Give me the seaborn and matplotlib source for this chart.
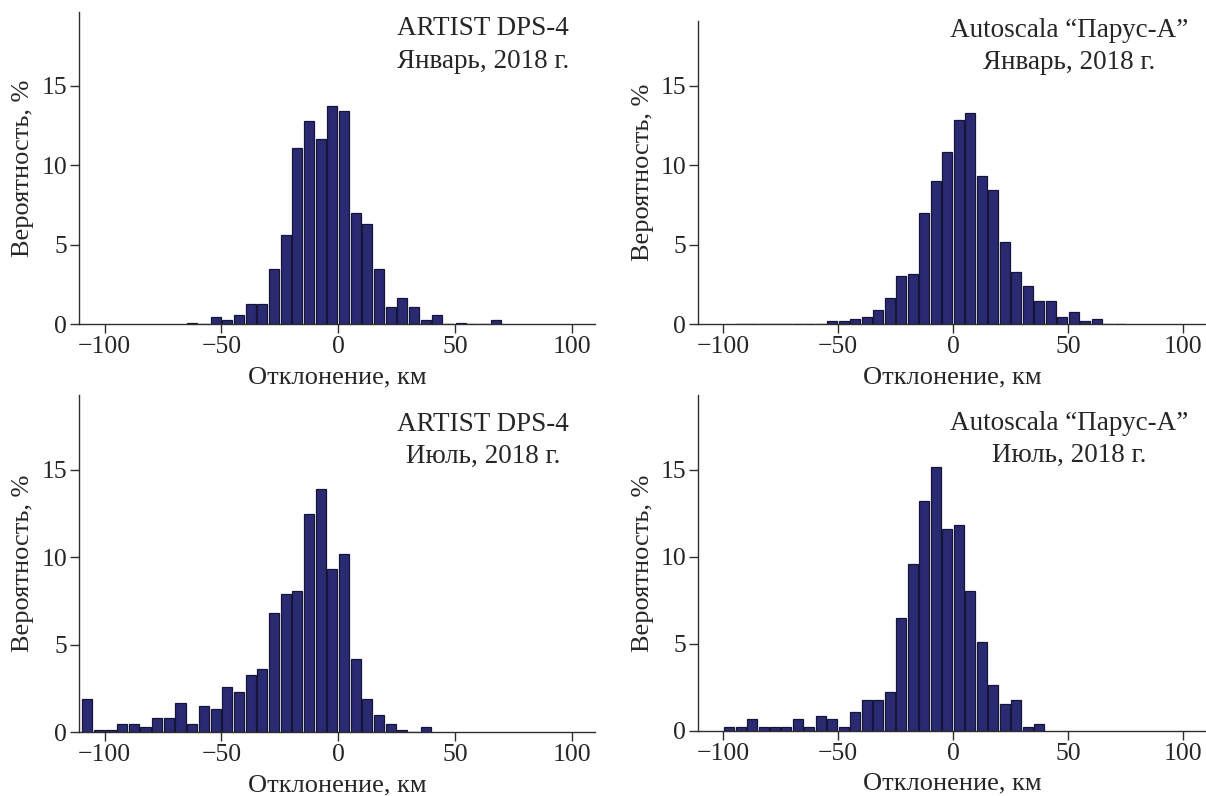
import numpy as np
import pandas as pd
import matplotlib
matplotlib.use("Agg")
import matplotlib.pyplot as plt
import seaborn as sns

# ---------------- data (percent per 5-km bin) ----------------
BIN_WIDTH = 5
# January, ARTIST DPS-4 : first bin starts at -65 km
jan_artist_start = -65
jan_artist = [0.1, 0.0, 0.44, 0.25, 0.6, 1.3, 1.3, 3.5, 5.6, 11.1, 12.8, 11.65,
              13.7, 13.4, 7.0, 6.3, 3.5, 1.1, 1.65, 1.1, 0.25, 0.6, 0.0, 0.1,
              0.0, 0.0, 0.25]
# January, Autoscala "Парус-А" : first bin starts at -95 km
jan_auto_start = -95
jan_auto = [0.05, 0.0, 0.0, 0.0, 0.0, 0.05, 0.05, 0.05, 0.23, 0.23, 0.33, 0.46,
            0.9, 1.63, 3.04, 3.19, 7.02, 9.0, 10.86, 12.85, 13.27, 9.3, 8.47,
            5.16, 3.31, 2.43, 1.47, 1.47, 0.46, 0.75, 0.23, 0.33, 0.05, 0.05]
# July, ARTIST DPS-4 : first bin starts at -110 km
jul_artist_start = -110
jul_artist = [1.91, 0.13, 0.13, 0.46, 0.46, 0.29, 0.84, 0.84, 1.7, 0.46, 1.53,
              1.34, 2.58, 2.28, 3.27, 3.63, 6.83, 7.88, 8.07, 12.49, 13.88,
              9.31, 10.17, 4.19, 1.91, 1.01, 0.46, 0.13, 0.0, 0.29]
# July, Autoscala "Парус-А" : first bin starts at -100 km
jul_auto_start = -100
jul_auto = [0.19, 0.19, 0.67, 0.19, 0.19, 0.19, 0.67, 0.19, 0.84, 0.67, 0.19,
            1.09, 1.79, 1.79, 2.21, 6.47, 9.6, 13.19, 15.18, 11.57, 11.8, 8.04,
            5.12, 2.63, 1.52, 1.79, 0.19, 0.4]

x_ticks = [-100, -50, 0, 50, 100]
y_ticks = [0, 5, 10, 15]
xlabel = "Отклонение, км"
ylabel = "Вероятность, %"
titles = [("ARTIST DPS-4", "Январь, 2018 г."),
          ("Autoscala “Парус-А”", "Январь, 2018 г."),
          ("ARTIST DPS-4", "Июль, 2018 г."),
          ("Autoscala “Парус-А”", "Июль, 2018 г.")]

# ---------------- style ----------------
sns.set_theme(style="ticks")
plt.rcParams["font.family"] = ["Liberation Serif", "DejaVu Serif"]
plt.rcParams["axes.unicode_minus"] = True
FS_TICK = 18.5
FS_LAB = 19
FS_TITLE = 19.5
BAR = "#2a2a72"
EDGE = "#15153a"
SPINE = "#2e2e2e"

W, H = 1206, 796
fig = plt.figure(figsize=(W / 100, H / 100), dpi=100)

# panel pixel geometry: (left, right, bottom, top, ymax)
geom = [
    (79, 595, 324.3, 11.7, 19.66),
    (698, 1206, 324.3, 20.7, 19.09),
    (79, 595, 732.3, 395.0, 19.27),
    (698, 1206, 730.7, 395.0, 19.29),
]
# title positions (x center px, baseline1 px, baseline2 px)
tpos = [(483, 35, 68), (1069, 37, 69), (483, 431, 463), (1069, 430, 462)]

datasets = [(jan_artist_start, jan_artist), (jan_auto_start, jan_auto),
            (jul_artist_start, jul_artist), (jul_auto_start, jul_auto)]

for i, ((start, vals), (l, r, b, t, ymax)) in enumerate(zip(datasets, geom)):
    ax = fig.add_axes([l / W, 1 - b / H, (r - l) / W, (b - t) / H])
    vals = np.asarray(vals, dtype=float)
    centers = start + BIN_WIDTH * np.arange(len(vals)) + BIN_WIDTH / 2
    end = start + BIN_WIDTH * len(vals)
    df = pd.DataFrame({"center": centers, "pct": vals})
    sns.histplot(data=df, x="center", weights="pct", binwidth=BIN_WIDTH,
                 binrange=(start, end), ax=ax, stat="count", shrink=0.87,
                 color=BAR, edgecolor=EDGE, linewidth=0.9, alpha=1.0)
    ax.set_xlim(-111, 110)
    ax.set_ylim(0, ymax)
    ax.set_xticks(x_ticks)
    ax.set_yticks(y_ticks)
    ax.set_xticklabels([f"{v}".replace("-", "\u2212") for v in x_ticks])
    ax.tick_params(axis="both", labelsize=FS_TICK, length=6.5, width=1.0,
                   color=SPINE, direction="out", pad=2)
    ax.set_xlabel(xlabel, fontsize=FS_LAB, labelpad=6)
    ax.set_ylabel(ylabel, fontsize=FS_LAB, labelpad=5)
    for s in ["top", "right"]:
        ax.spines[s].set_visible(False)
    for s in ["left", "bottom"]:
        ax.spines[s].set_color(SPINE)
        ax.spines[s].set_linewidth(1.0)
    ax.patch.set_alpha(0)
    cx, b1, b2 = tpos[i]
    fig.text(cx / W, 1 - b1 / H, titles[i][0], ha="center", va="baseline",
             fontsize=FS_TITLE)
    fig.text(cx / W, 1 - b2 / H, titles[i][1], ha="center", va="baseline",
             fontsize=FS_TITLE)

fig.savefig("out.png", dpi=100)
